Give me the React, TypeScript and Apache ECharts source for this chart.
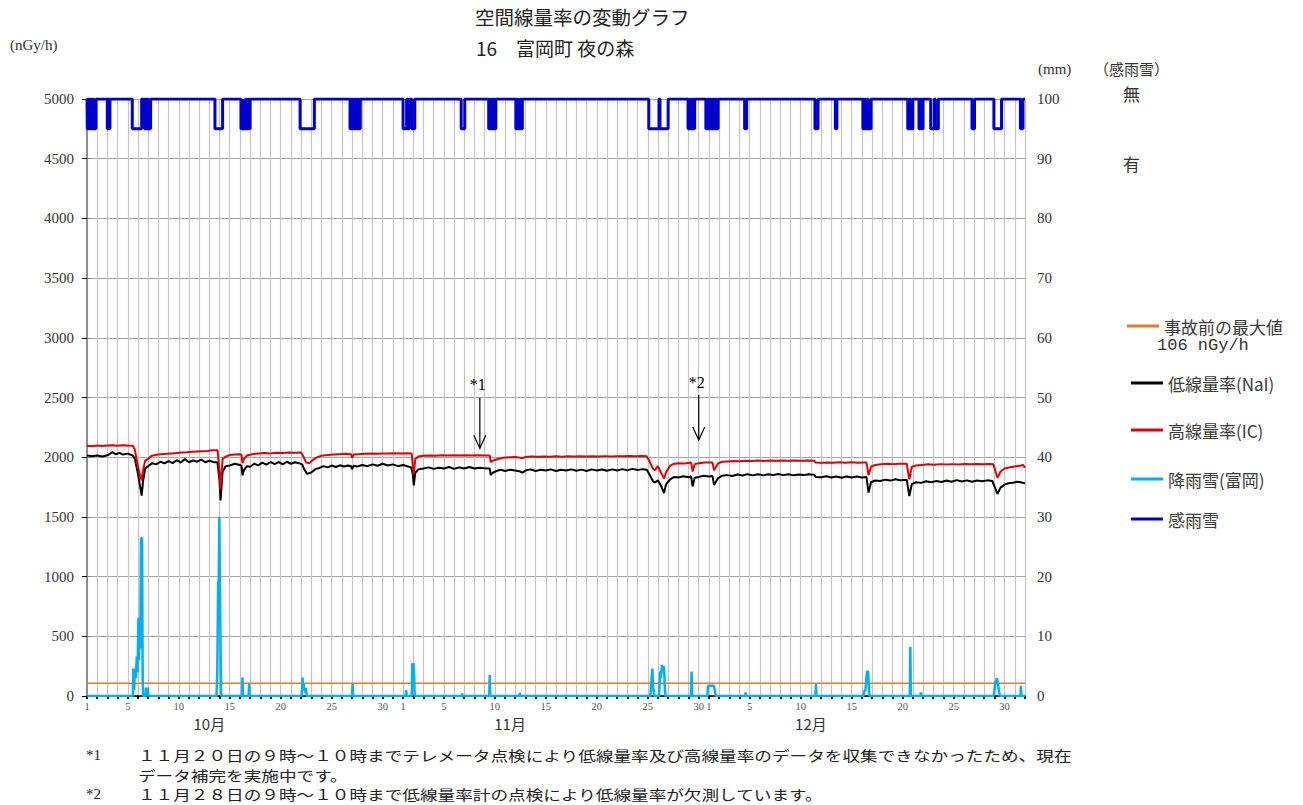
import React, { useEffect, useRef } from "react";
import * as echarts from "echarts";

// ---------- texts ----------
const TITLE_1 = "空間線量率の変動グラフ";
const TITLE_2 = "16　富岡町 夜の森";
const UNIT_LEFT = "(nGy/h)";
const UNIT_RIGHT = "(mm)";
const UNIT_SENSE = "（感雨雪）";
const SENSE_NONE_LABEL = "無";
const SENSE_YES_LABEL = "有";
const S_BASE = "事故前の最大値";
const S_BASE_SUB = "106 nGy/h";
const S_NAI = "低線量率(NaI)";
const S_IC = "高線量率(IC)";
const S_RAIN = "降雨雪(富岡)";
const S_SENSE = "感雨雪";
const FOOT_MARKS = ["*1", "", "*2"];
const FOOT_TEXTS = [
  "１１月２０日の９時～１０時までテレメータ点検により低線量率及び高線量率のデータを収集できなかったため、現在",
  "データ補完を実施中です。",
  "１１月２８日の９時～１０時まで低線量率計の点検により低線量率が欠測しています。",
];

// ---------- axes ----------
const monthNames = ["10月", "11月", "12月"];
const monthLengths = [31, 30, 31];
const monthLabelHalfDays = [24, 83, 142];
const labeledDays = [1, 5, 10, 15, 20, 25, 30];
const doseMin = 0, doseMax = 5000, doseStep = 500;
const rainMin = 0, rainMax = 100, rainStep = 10;

// ---------- data ----------
const preAccidentMax = 106;

const naiDays = [0, 0.5, 1, 1.5, 2, 2.5, 2.8, 3.2, 3.5, 4, 4.5, 4.7, 5, 5.2, 5.36, 5.5, 5.7, 6, 6.4, 6.8, 7.2, 7.6, 8, 8.4, 8.8, 9.2, 9.6, 10, 10.4, 10.8, 11.2, 11.6, 12, 12.4, 12.8, 13.0, 13.1, 13.3, 13.6, 14, 14.5, 15, 15.15, 15.25, 15.4, 15.7, 16, 16.4, 16.8, 17.2, 17.6, 18, 18.4, 18.8, 19.2, 19.6, 20, 20.4, 20.8, 21.1, 21.3, 21.6, 22, 22.4, 22.8, 23.2, 23.6, 24, 24.4, 24.8, 25.2, 25.6, 25.9, 26, 26.15, 26.5, 27, 27.5, 28, 28.5, 29, 29.5, 30, 30.5, 31, 31.5, 31.8, 31.95, 32.05, 32.2, 32.5, 33, 33.5, 34, 34.5, 35, 35.5, 36, 36.5, 37, 37.5, 38, 38.5, 39, 39.5, 39.6, 39.8, 40.2, 40.6, 41, 41.5, 42, 42.5, 42.7, 43, 43.5, 44, 44.5, 45, 45.5, 46, 46.5, 47, 47.5, 48, 48.5, 49, 49.5, 50, 50.5, 51, 51.5, 52, 52.5, 53, 53.5, 54, 54.5, 54.9, 55.2, 55.5, 55.7, 56, 56.3, 56.6, 56.8, 57.2, 57.6, 58, 58.5, 59, 59.25, 59.4, 59.6, 60, 60.5, 61, 61.35, 61.5, 61.9, 62.3, 62.8, 63.3, 63.8, 64.3, 64.8, 65.3, 65.8, 66.3, 66.8, 67.3, 67.8, 68.3, 68.8, 69.3, 69.8, 70.3, 70.8, 71.35, 71.45, 72, 72.5, 73, 73.5, 74, 74.5, 75, 75.5, 76, 76.45, 76.65, 76.9, 77.3, 77.8, 78.3, 78.8, 79.3, 79.8, 80.4, 80.65, 80.9, 81.3, 81.8, 82.3, 82.8, 83.3, 83.8, 84.3, 84.8, 85.3, 85.8, 86.3, 86.8, 87.3, 87.8, 88.3, 88.8, 89.3, 89.6, 90, 90.4, 90.8, 91.2, 91.6, 92];
const naiValues = [2015, 2008, 2014, 2006, 2016, 2042, 2025, 2036, 2022, 2030, 2014, 1985, 1860, 1760, 1679, 1800, 1905, 1925, 1950, 1940, 1962, 1948, 1968, 1950, 1975, 1955, 1985, 1958, 1972, 1962, 1980, 1958, 1970, 1960, 1955, 1800, 1637, 1880, 1925, 1930, 1945, 1935, 1930, 1847, 1895, 1925, 1920, 1945, 1932, 1955, 1938, 1960, 1942, 1958, 1940, 1962, 1945, 1958, 1950, 1940, 1900, 1860, 1872, 1900, 1910, 1925, 1915, 1930, 1918, 1932, 1922, 1930, 1925, 1900, 1928, 1922, 1935, 1925, 1940, 1928, 1945, 1930, 1940, 1925, 1935, 1922, 1915, 1860, 1763, 1870, 1898, 1905, 1915, 1902, 1912, 1905, 1918, 1902, 1915, 1905, 1918, 1905, 1912, 1908, 1905, 1850, 1870, 1886, 1895, 1885, 1895, 1888, 1880, 1870, 1888, 1898, 1885, 1895, 1888, 1898, 1885, 1895, 1888, 1898, 1886, 1896, 1885, 1898, 1888, 1897, 1886, 1898, 1888, 1900, 1890, 1902, 1892, 1900, 1895, 1850, 1800, 1790, 1805, 1760, 1700, 1775, 1815, 1835, 1830, 1840, 1832, 1838, 1755, 1828, 1835, 1845, 1838, 1842, 1768, 1825, 1845, 1850, 1842, 1855, 1846, 1858, 1848, 1858, 1848, 1858, 1850, 1860, 1850, 1858, 1848, 1856, 1850, 1858, 1852, 1835, 1832, 1840, 1830, 1838, 1828, 1838, 1830, 1838, 1830, 1835, 1704, 1790, 1805, 1800, 1812, 1804, 1815, 1806, 1812, 1675, 1775, 1790, 1785, 1798, 1790, 1800, 1792, 1805, 1795, 1808, 1796, 1806, 1795, 1805, 1798, 1806, 1800, 1692, 1745, 1770, 1782, 1785, 1795, 1790, 1780];

const icDays = [0, 0.5, 1, 1.5, 2, 2.5, 3, 3.5, 4, 4.5, 4.7, 5, 5.2, 5.36, 5.5, 5.7, 6, 6.3, 6.8, 7.3, 7.8, 8.3, 8.8, 9.3, 9.8, 10.3, 10.8, 11.3, 11.8, 12.3, 12.8, 13.0, 13.1, 13.3, 13.6, 14, 14.5, 15, 15.15, 15.25, 15.4, 15.7, 16.2, 16.8, 17.4, 18, 18.6, 19.2, 19.8, 20.4, 21, 21.2, 21.5, 21.8, 22.2, 22.6, 23, 23.6, 24.2, 24.8, 25.4, 25.9, 26, 26.15, 26.6, 27.2, 27.8, 28.4, 29, 29.6, 30.2, 30.8, 31.4, 31.85, 31.95, 32.05, 32.2, 32.5, 33, 33.6, 34.2, 34.8, 35.4, 36, 36.6, 37.2, 37.8, 38.4, 39, 39.5, 39.6, 39.9, 40.3, 40.8, 41.4, 42, 42.5, 42.7, 43, 43.6, 44.2, 44.8, 45.4, 46, 46.6, 47.2, 47.8, 48.4, 49, 49.6, 50.2, 50.8, 51.4, 52, 52.6, 53.2, 53.8, 54.4, 54.9, 55.2, 55.5, 55.7, 56, 56.3, 56.6, 56.8, 57.2, 57.6, 58, 58.6, 59.25, 59.4, 59.6, 60, 60.6, 61.35, 61.5, 61.9, 62.3, 62.8, 63.4, 64, 64.6, 65.2, 65.8, 66.4, 67, 67.6, 68.2, 68.8, 69.4, 70, 70.6, 71.35, 71.45, 72, 72.6, 73.2, 73.8, 74.4, 75, 75.6, 76.2, 76.45, 76.65, 76.9, 77.3, 77.9, 78.5, 79.1, 79.7, 80.4, 80.65, 80.9, 81.3, 81.9, 82.5, 83.1, 83.7, 84.3, 84.9, 85.5, 86.1, 86.7, 87.3, 87.9, 88.5, 88.9, 89.3, 89.6, 90, 90.5, 91, 91.5, 91.8, 92];
const icValues = [2095, 2092, 2098, 2094, 2097, 2100, 2096, 2101, 2098, 2096, 2060, 1920, 1850, 1805, 1890, 1972, 1985, 2010, 2020, 2025, 2028, 2032, 2035, 2040, 2042, 2045, 2048, 2050, 2052, 2058, 2058, 1880, 1735, 1985, 2005, 2018, 2022, 2025, 2020, 1950, 1985, 2015, 2025, 2030, 2035, 2032, 2038, 2036, 2040, 2038, 2040, 2010, 1955, 1950, 1980, 2000, 2012, 2018, 2022, 2025, 2028, 2025, 1995, 2022, 2025, 2028, 2030, 2028, 2032, 2030, 2033, 2030, 2034, 2030, 1930, 1860, 1985, 2005, 2012, 2015, 2013, 2016, 2014, 2016, 2014, 2017, 2015, 2016, 2014, 2015, 1958, 1975, 1985, 1995, 2000, 2002, 1996, 1990, 2002, 2005, 2003, 2006, 2004, 2007, 2004, 2007, 2005, 2008, 2005, 2008, 2006, 2009, 2006, 2009, 2007, 2010, 2007, 2010, 2008, 1960, 1905, 1892, 1925, 1870, 1822, 1875, 1930, 1945, 1950, 1948, 1955, 1880, 1942, 1950, 1955, 1955, 1890, 1948, 1962, 1965, 1968, 1966, 1970, 1968, 1972, 1969, 1972, 1970, 1973, 1970, 1973, 1970, 1972, 1970, 1955, 1953, 1956, 1953, 1957, 1954, 1957, 1954, 1956, 1955, 1850, 1920, 1935, 1940, 1945, 1942, 1946, 1946, 1815, 1920, 1930, 1935, 1940, 1937, 1942, 1938, 1942, 1939, 1943, 1940, 1943, 1940, 1944, 1940, 1828, 1880, 1905, 1915, 1922, 1928, 1935, 1912];

const rainDays = [0, 4.5, 4.55, 4.62, 4.7, 4.8, 4.88, 4.96, 5.04, 5.1, 5.16, 5.22, 5.3, 5.36, 5.4, 5.46, 5.52, 5.75, 5.8, 5.9, 5.96, 6.02, 12.7, 12.78, 12.86, 12.92, 12.98, 13.04, 13.1, 13.16, 15.2, 15.25, 15.3, 15.85, 15.9, 15.95, 21.05, 21.1, 21.14, 21.2, 21.26, 21.32, 21.4, 21.46, 21.52, 21.58, 26.0, 26.05, 26.1, 31.25, 31.3, 31.35, 31.85, 31.9, 31.96, 32.02, 32.08, 32.14, 36.75, 36.8, 36.85, 39.45, 39.5, 39.55, 42.4, 42.45, 42.5, 55.25, 55.3, 55.38, 55.45, 55.52, 55.6, 55.66, 56.1, 56.15, 56.22, 56.3, 56.38, 56.45, 56.52, 56.6, 56.68, 56.76, 59.25, 59.3, 59.36, 60.85, 60.9, 61.1, 61.3, 61.5, 61.6, 61.68, 64.55, 64.6, 64.65, 71.45, 71.5, 71.55, 76.15, 76.2, 76.35, 76.5, 76.62, 76.7, 76.76, 80.7, 80.75, 80.8, 81.75, 81.8, 81.85, 88.95, 89.0, 89.12, 89.25, 89.35, 89.45, 89.55, 91.55, 91.6, 91.65, 92];
const rainMm = [0, 0, 4.6, 1.0, 4.6, 3.0, 6.6, 4.0, 13.0, 6.0, 13.2, 8.0, 26.6, 12.0, 26.6, 2.7, 0, 0, 1.4, 0.6, 1.4, 0, 0, 4.0, 18.8, 19.5, 30.0, 30.0, 8.3, 0, 0, 3.1, 0, 0, 2.0, 0, 0, 1.5, 3.1, 1.0, 2.0, 1.3, 0.6, 1.3, 0.4, 0, 0, 2.0, 0, 0, 1.0, 0, 0, 5.5, 4.0, 5.5, 3.6, 0, 0, 0.4, 0, 0, 3.5, 0, 0, 0.5, 0, 0, 1.0, 3.0, 4.6, 1.5, 0.5, 0, 0, 2.0, 4.1, 3.0, 5.2, 4.0, 5.0, 4.8, 1.0, 0, 0, 4.1, 0, 0, 1.7, 1.7, 1.7, 1.7, 0.6, 0, 0, 0.6, 0, 0, 2.1, 0, 0, 0.6, 1.0, 4.1, 4.1, 0.8, 0, 0, 8.2, 0, 0, 0.6, 0, 0, 1.0, 2.4, 3.0, 2.0, 0.8, 0, 0, 1.7, 0, 0];

// 感雨雪: 無 = 100, 有 = 95 (right axis); periods with precipitation sensed
const senseNone = 100;
const senseYes = 95;
const senseStart = [0.03, 0.2, 0.45, 0.65, 1.99, 2.15, 4.44, 5.62, 5.82, 6.02, 12.55, 15.1, 15.3, 15.65, 15.87, 20.9, 25.8, 26.05, 26.4, 26.62, 31.0, 31.45, 31.85, 36.7, 39.4, 39.68, 39.92, 42.06, 42.32, 42.57, 55.1, 56.2, 58.95, 59.22, 59.47, 60.7, 60.97, 61.22, 61.47, 61.72, 64.5, 71.4, 73.4, 76.1, 76.37, 76.62, 80.5, 80.78, 81.6, 81.82, 82.75, 83.2, 86.8, 88.95, 91.55];
const senseEnd = [0.12, 0.35, 0.55, 0.88, 2.07, 2.25, 5.36, 5.75, 5.95, 6.24, 13.3, 15.25, 15.55, 15.8, 16.0, 22.3, 25.95, 26.2, 26.55, 26.8, 31.35, 31.6, 32.15, 37.05, 39.6, 39.85, 40.1, 42.25, 42.5, 42.7, 56.1, 57.0, 59.15, 59.4, 59.6, 60.9, 61.15, 61.4, 61.65, 61.9, 64.7, 71.7, 73.55, 76.3, 76.55, 76.9, 80.7, 81.0, 81.75, 82.0, 83.1, 83.5, 87.05, 89.7, 91.8];

// annotations
const noteNames = ["*1", "*2"];
const noteDays = [38.53, 60.0];
const noteTop = [2500, 2520];
const noteBottom = [2075, 2144];

// ---------- helpers ----------
const totalDays = monthLengths.reduce((a, b) => a + b, 0);
function dayLabel(v: number): string {
  const x = Math.round(v);
  let start = 0;
  for (let m = 0; m < monthLengths.length; m++) {
    if (x >= start && x < start + monthLengths[m]) {
      const d = x - start + 1;
      return labeledDays.includes(d) ? String(d) : "";
    }
    start += monthLengths[m];
  }
  return "";
}
function monthLabel(v: number): string {
  const i = monthLabelHalfDays.indexOf(Math.round(v));
  return i >= 0 ? monthNames[i] : "";
}

const JP = '"Noto Sans CJK JP", sans-serif';
const SERIF = '"Liberation Serif", "DejaVu Serif", serif';

function buildOption(): any {
  const naiData = naiDays.map((d, i) => [d, naiValues[i]]);
  const icData = icDays.map((d, i) => [d, icValues[i]]);
  const rainData = rainDays.map((d, i) => [d, rainMm[i]]);
  const senseData: number[][] = [[0, senseNone]];
  senseStart.forEach((s, i) => {
    const e = senseEnd[i];
    senseData.push([s, senseNone], [s, senseYes], [e, senseYes], [e, senseNone]);
  });
  senseData.push([totalDays, senseNone]);
  const baseData = [[0, preAccidentMax], [totalDays, preAccidentMax]];
  const noteData = noteDays.map((d, i) => [d, noteTop[i], noteBottom[i]]);

  const legendRow = (name: string, left: number, top: number, color: string) => ({
    data: [{ name, itemStyle: { color } }],
    left,
    top,
    orient: "vertical",
    padding: 0,
    itemWidth: 32,
    itemHeight: 3,
    itemGap: 10,
    icon: "rect",
    selectedMode: false,
    textStyle: { fontSize: 17, color: "#3a3a3a", fontFamily: JP, lineHeight: 18 },
  });

  const footGraphics: any[] = [];
  const footCenterY = [755, 775, 794];
  FOOT_TEXTS.forEach((t, i) => {
    if (FOOT_MARKS[i]) {
      footGraphics.push({
        type: "text",
        x: 86,
        y: footCenterY[i],
        style: {
          text: FOOT_MARKS[i],
          font: `15px ${SERIF}`,
          fill: "#222",
          verticalAlign: "middle",
          textVerticalAlign: "middle",
        },
      });
    }
    footGraphics.push({
      type: "text",
      x: 138,
      y: footCenterY[i],
      scaleX: 1.26,
      style: {
        text: t,
        font: `14px ${JP}`,
        fill: "#222",
        verticalAlign: "middle",
        textVerticalAlign: "middle",
      },
    });
  });

  return {
    animation: false,
    backgroundColor: "#ffffff",
    title: [
      {
        text: TITLE_1,
        left: 475,
        top: 7,
        padding: 0,
        textStyle: { fontSize: 19.5, fontWeight: "normal", color: "#222", fontFamily: JP },
      },
      {
        text: TITLE_2,
        left: 476,
        top: 38,
        padding: 0,
        textStyle: { fontSize: 19, fontWeight: "normal", color: "#222", fontFamily: JP },
      },
    ],
    legend: [
      legendRow(S_BASE, 1127, 317, "#E8782A"),
      legendRow(S_NAI, 1131, 374, "#000000"),
      legendRow(S_IC, 1131, 421, "#E00000"),
      legendRow(S_RAIN, 1131, 470, "#00B0F0"),
      legendRow(S_SENSE, 1131, 510, "#0000CC"),
    ],
    grid: { left: 87, top: 99, right: 278, bottom: 109, containLabel: false },
    xAxis: [
      {
        type: "value",
        min: 0,
        max: totalDays,
        interval: 1,
        axisLine: { show: true, onZero: false, lineStyle: { color: "#000", width: 1.5 } },
        axisTick: { show: true, length: 3, lineStyle: { color: "#000", width: 2 } },
        splitLine: { show: true, lineStyle: { color: "#c4c4c4", width: 1.2 } },
        axisLabel: {
          interval: 0,
          hideOverlap: false,
          margin: 5,
          formatter: dayLabel,
          fontSize: 10.5,
          lineHeight: 10,
          color: "#555",
          fontFamily: SERIF,
        },
      },
      {
        type: "value",
        min: 0,
        max: totalDays * 2,
        interval: 1,
        position: "bottom",
        axisLine: { show: false },
        axisTick: { show: false },
        splitLine: { show: false },
        axisLabel: {
          interval: 0,
          hideOverlap: false,
          margin: 20,
          formatter: monthLabel,
          fontSize: 15,
          lineHeight: 15,
          color: "#333",
          fontFamily: JP,
        },
      },
    ],
    yAxis: [
      {
        type: "value",
        min: doseMin,
        max: doseMax,
        interval: doseStep,
        position: "left",
        axisLine: { show: true, lineStyle: { color: "#000", width: 2 } },
        axisTick: { show: true, length: 5, lineStyle: { color: "#000" } },
        splitLine: { show: true, lineStyle: { color: "#a6a6a6", width: 1.2 } },
        axisLabel: {
          margin: 13,
          fontSize: 15,
          color: "#333",
          fontFamily: SERIF,
          formatter: (v: number) => String(v),
        },
      },
      {
        type: "value",
        min: rainMin,
        max: rainMax,
        interval: rainStep,
        position: "right",
        axisLine: { show: true, lineStyle: { color: "#8c8c8c", width: 2 } },
        axisTick: { show: true, length: 5, lineStyle: { color: "#8c8c8c" } },
        splitLine: { show: false },
        axisLabel: {
          margin: 12,
          fontSize: 15,
          color: "#333",
          fontFamily: SERIF,
          formatter: (v: number) => String(v),
        },
      },
    ],
    series: [
      {
        name: S_BASE,
        type: "line",
        data: baseData,
        showSymbol: false,
        symbol: "none",
        lineStyle: { color: "#E8782A", width: 1.5 },
        itemStyle: { color: "#E8782A" },
        z: 2,
      },
      {
        name: S_NAI,
        type: "line",
        data: naiData,
        showSymbol: false,
        symbol: "none",
        lineStyle: { color: "#000000", width: 2 },
        itemStyle: { color: "#000000" },
        z: 3,
      },
      {
        name: S_IC,
        type: "line",
        data: icData,
        showSymbol: false,
        symbol: "none",
        lineStyle: { color: "#E00000", width: 2 },
        itemStyle: { color: "#E00000" },
        z: 3,
      },
      {
        name: S_RAIN,
        type: "line",
        yAxisIndex: 1,
        data: rainData,
        showSymbol: false,
        symbol: "none",
        lineStyle: { color: "#00B0F0", width: 2.5 },
        itemStyle: { color: "#00B0F0" },
        z: 4,
      },
      {
        name: S_SENSE,
        type: "line",
        yAxisIndex: 1,
        data: senseData,
        showSymbol: false,
        symbol: "none",
        lineStyle: { color: "#0000CC", width: 3 },
        itemStyle: { color: "#0000CC" },
        z: 5,
      },
      {
        type: "custom",
        silent: true,
        z: 6,
        encode: { x: 0, y: [1, 2] },
        data: noteData,
        renderItem: (params: any, api: any) => {
          const x = api.value(0);
          const top = api.coord([x, api.value(1)]);
          const bot = api.coord([x, api.value(2)]);
          const label = noteNames[params.dataIndex];
          return {
            type: "group",
            children: [
              {
                type: "line",
                shape: { x1: top[0], y1: top[1], x2: bot[0], y2: bot[1] },
                style: { stroke: "#000", lineWidth: 1.2 },
              },
              {
                type: "polyline",
                shape: {
                  points: [
                    [bot[0] - 6, bot[1] - 13],
                    [bot[0], bot[1]],
                    [bot[0] + 6, bot[1] - 13],
                  ],
                },
                style: { stroke: "#000", fill: null, lineWidth: 1.2 },
              },
              {
                type: "text",
                x: top[0] - 2,
                y: top[1] - 5,
                style: {
                  text: label,
                  align: "center",
                  verticalAlign: "bottom",
                  textAlign: "center",
                  textVerticalAlign: "bottom",
                  font: `16px ${SERIF}`,
                  fill: "#000",
                },
              },
            ],
          };
        },
      },
    ],
    graphic: [
      { type: "text", left: 10, top: 37, style: { text: UNIT_LEFT, font: `15px ${SERIF}`, fill: "#333" } },
      { type: "text", left: 1038, top: 61, style: { text: UNIT_RIGHT, font: `15px ${SERIF}`, fill: "#333" } },
      { type: "text", left: 1094, top: 61, style: { text: UNIT_SENSE, font: `15px ${JP}`, fill: "#333" } },
      { type: "text", left: 1123, top: 85, style: { text: SENSE_NONE_LABEL, font: `17px ${JP}`, fill: "#333" } },
      { type: "text", left: 1123, top: 155, style: { text: SENSE_YES_LABEL, font: `17px ${JP}`, fill: "#333" } },
      { type: "text", left: 1157, top: 337, style: { text: S_BASE_SUB, font: `17px "Liberation Mono", monospace`, fill: "#333" } },
      ...footGraphics,
    ],
  };
}

export default function App() {
  const ref = useRef<HTMLDivElement>(null);
  useEffect(() => {
    if (!ref.current) return;
    const chart = echarts.init(ref.current, null, { renderer: "svg" });
    chart.setOption(buildOption());
    return () => chart.dispose();
  }, []);
  return (
    <div
      ref={ref}
      style={{ position: "absolute", left: 0, top: 0, width: 1303, height: 805, background: "#fff" }}
    />
  );
}
